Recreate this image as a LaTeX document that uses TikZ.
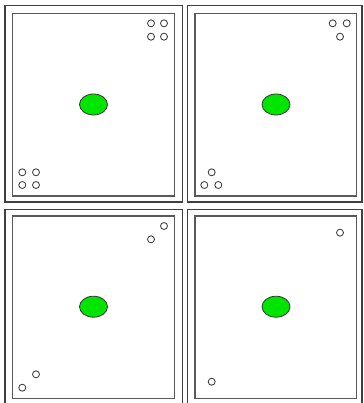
\documentclass[tikz,border=0pt]{standalone}
\usetikzlibrary{shapes.geometric}
\begin{document}
\begin{tikzpicture}[x=1pt,y=-1pt,
  outerbox/.style={draw=black!75,line width=1.7pt},
  innerbox/.style={draw=black!65,line width=1.2pt},
  hole/.style={circle,draw=black!80,line width=0.8pt,fill=white,minimum size=7pt,inner sep=0pt},
  blob/.style={ellipse,draw=black!80,line width=0.8pt,fill=green!90!black!100,minimum width=28pt,minimum height=21pt,inner sep=0pt}]
\useasboundingbox (0,0) rectangle (363,403);
\clip (0,0) rectangle (363,403);
% outer frames
\draw[outerbox] (5,5.5) rectangle (182.5,202);
\draw[outerbox] (187.5,5.5) rectangle (362.3,202);
\draw[outerbox] (5,209.5) rectangle (182.5,410);
\draw[outerbox] (187.5,209.5) rectangle (362.3,410);
% inner frames
\draw[innerbox] (12.5,13.5) rectangle (174.5,196);
\draw[innerbox] (195,13.5) rectangle (356.5,196);
\draw[innerbox] (12.5,216) rectangle (174.5,398.5);
\draw[innerbox] (195,216) rectangle (356.5,398.5);
% green ellipses
\node[blob] (e1) at (93.5,104.5) {};
\node[blob] (e2) at (276,104.5) {};
\node[blob] (e3) at (93.5,306.7) {};
\node[blob] (e4) at (276,306.7) {};
% panel 1 holes
\node[hole] (a1) at (151,23.3) {};
\node[hole] (a2) at (164,23.3) {};
\node[hole] (a3) at (151,36.7) {};
\node[hole] (a4) at (164,36.7) {};
\node[hole] (a5) at (22.3,172.3) {};
\node[hole] (a6) at (36,172.3) {};
\node[hole] (a7) at (22.3,185) {};
\node[hole] (a8) at (36,185) {};
% panel 2 holes
\node[hole] (b1) at (332.7,23.3) {};
\node[hole] (b2) at (346.7,23.3) {};
\node[hole] (b3) at (340,36.7) {};
\node[hole] (b4) at (211.7,172.3) {};
\node[hole] (b5) at (204.3,185) {};
\node[hole] (b6) at (218.3,185) {};
% panel 3 holes
\node[hole] (c1) at (164,226) {};
\node[hole] (c2) at (151,239.3) {};
\node[hole] (c3) at (36,374.3) {};
\node[hole] (c4) at (22.3,387.7) {};
% panel 4 holes
\node[hole] (d1) at (340,232.7) {};
\node[hole] (d2) at (211.7,381.7) {};
\end{tikzpicture}
\end{document}
